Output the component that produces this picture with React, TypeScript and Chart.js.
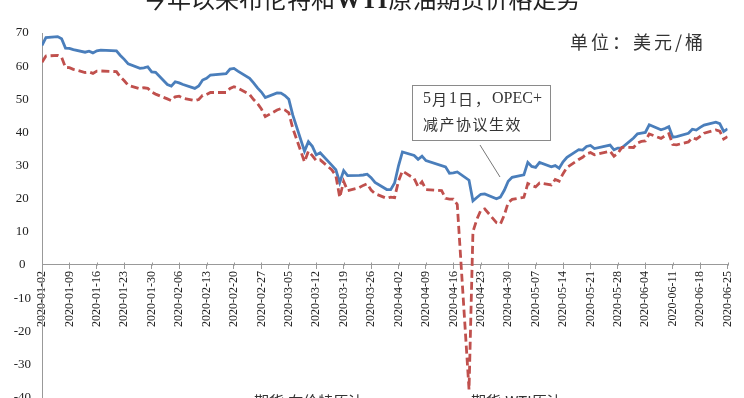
import React, { useEffect, useRef } from "react";
import { Chart, registerables } from "chart.js";

Chart.register(...registerables);

// ---------- data ----------
const TRADE_DATES = [
  "2020-01-02","2020-01-03","2020-01-06","2020-01-07","2020-01-08","2020-01-09","2020-01-10","2020-01-13","2020-01-14","2020-01-15","2020-01-16","2020-01-17","2020-01-21","2020-01-22","2020-01-23","2020-01-24","2020-01-27","2020-01-28","2020-01-29","2020-01-30","2020-01-31",
  "2020-02-03","2020-02-04","2020-02-05","2020-02-06","2020-02-07","2020-02-10","2020-02-11","2020-02-12","2020-02-13","2020-02-14","2020-02-18","2020-02-19","2020-02-20","2020-02-21","2020-02-24","2020-02-25","2020-02-26","2020-02-27","2020-02-28",
  "2020-03-02","2020-03-03","2020-03-04","2020-03-05","2020-03-06","2020-03-09","2020-03-10","2020-03-11","2020-03-12","2020-03-13","2020-03-16","2020-03-17","2020-03-18","2020-03-19","2020-03-20","2020-03-23","2020-03-24","2020-03-25","2020-03-26","2020-03-27","2020-03-30","2020-03-31",
  "2020-04-01","2020-04-02","2020-04-03","2020-04-06","2020-04-07","2020-04-08","2020-04-09","2020-04-13","2020-04-14","2020-04-15","2020-04-16","2020-04-17","2020-04-20","2020-04-21","2020-04-22","2020-04-23","2020-04-24","2020-04-27","2020-04-28","2020-04-29","2020-04-30",
  "2020-05-01","2020-05-04","2020-05-05","2020-05-06","2020-05-07","2020-05-08","2020-05-11","2020-05-12","2020-05-13","2020-05-14","2020-05-15","2020-05-18","2020-05-19","2020-05-20","2020-05-21","2020-05-22","2020-05-26","2020-05-27","2020-05-28","2020-05-29",
  "2020-06-01","2020-06-02","2020-06-03","2020-06-04","2020-06-05","2020-06-08","2020-06-09","2020-06-10","2020-06-11","2020-06-12","2020-06-15","2020-06-16","2020-06-17","2020-06-18","2020-06-19","2020-06-22","2020-06-23","2020-06-24","2020-06-25",
];

const BRENT = [
  66.25,68.6,68.91,68.27,65.44,65.37,64.98,64.2,64.49,64.0,64.62,64.85,64.59,63.21,62.04,60.69,59.32,59.51,59.81,58.29,58.16,
  54.45,53.96,55.28,54.93,54.47,53.27,54.01,55.79,56.34,57.32,57.75,59.12,59.31,58.5,56.3,54.95,53.43,52.18,50.52,
  51.9,51.86,51.13,49.99,45.27,34.36,37.22,35.79,33.22,33.85,30.05,28.73,24.88,28.47,26.98,27.03,27.15,27.39,26.34,24.93,22.76,22.74,
  24.74,29.94,34.11,33.05,31.87,32.84,31.48,null,29.6,27.69,27.82,28.08,25.57,19.33,20.37,21.33,21.44,19.99,20.46,22.54,25.27,
  26.44,27.2,30.97,29.72,29.46,30.97,29.63,29.98,29.19,31.13,32.5,34.81,34.65,35.75,36.06,35.13,36.17,34.74,35.29,35.33,
  38.32,39.57,39.79,39.99,42.3,40.8,41.18,41.73,38.55,38.73,39.72,40.96,40.71,41.51,42.19,43.08,42.63,40.31,41.05,
];

const WTI = [
  61.18,63.05,63.27,62.7,59.61,59.56,59.04,58.08,58.23,57.81,58.52,58.54,58.34,56.74,55.59,54.19,53.14,53.48,53.33,52.14,51.56,
  50.11,49.61,50.75,50.95,50.32,49.57,49.94,51.17,51.42,52.05,52.05,53.29,53.78,53.38,51.43,49.9,48.73,47.09,44.76,
  46.75,47.18,46.78,45.9,41.28,31.13,34.36,32.98,31.5,31.73,28.7,26.95,20.37,25.22,22.43,23.36,24.01,24.49,22.6,21.51,20.09,20.48,
  20.31,25.32,28.34,26.08,23.63,25.09,22.76,22.41,20.11,19.87,19.87,18.27,-37.63,10.01,13.78,16.5,16.94,12.78,12.34,15.06,18.84,
  19.78,20.39,24.56,23.99,23.55,24.74,24.14,25.78,25.29,27.56,29.43,31.82,32.5,33.49,33.92,33.25,34.35,32.81,33.71,35.49,
  35.44,36.81,37.29,37.41,39.55,38.19,38.94,39.6,36.34,36.26,37.12,38.38,37.96,38.84,39.75,40.73,40.37,38.01,38.72,
];

const SERIES_NAMES = ["期货:布伦特原油", "期货:WTI原油"];
const AXIS_START = "2020-01-02";
const AXIS_END = "2020-06-25";
const TICK_STEP_DAYS = 7;
const Y_MIN = -40;
const Y_MAX = 70;
const Y_STEP = 10;

const TITLE_A = "今年以来布伦特和";
const TITLE_B = "WTI";
const TITLE_C = "原油期货价格走势";
const UNIT_TEXT = "单位：美元/桶";
const NOTE_LINE1 = ["5", "月", "1", "日", "，", "OPEC+"];
const NOTE_LINE2 = "减产协议生效";

// ---------- helpers ----------
const DAY = 86400000;
const toUTC = (s: string) => {
  const [y, m, d] = s.split("-").map(Number);
  return Date.UTC(y, m - 1, d);
};
const START = toUTC(AXIS_START);
const dayIndex = (s: string) => Math.round((toUTC(s) - START) / DAY);
const fmt = (v: number) => {
  const dt = new Date(START + v * DAY);
  const mm = String(dt.getUTCMonth() + 1).padStart(2, "0");
  const dd = String(dt.getUTCDate()).padStart(2, "0");
  return `${dt.getUTCFullYear()}-${mm}-${dd}`;
};

const OFF = 20; // canvas is shifted up by this many px
const W = 744;
const H = 440;
const SERIF = "'Liberation Serif', 'Times New Roman', serif";
const CJK = "'Noto Sans CJK SC', sans-serif";
const BLUE = "#4A7EBB";
const RED = "#C0504D";

const overlay = {
  id: "overlay",
  afterDraw(chart: any) {
    const ctx = chart.ctx as CanvasRenderingContext2D;
    ctx.save();
    // upward halves of x-axis tick marks (crossing ticks)
    const xs = chart.scales.x;
    const y0 = Math.round(chart.scales.y.getPixelForValue(0)) + 0.5;
    ctx.strokeStyle = "#999";
    ctx.lineWidth = 1;
    xs.ticks.forEach((t: any) => {
      const px = Math.round(xs.getPixelForValue(t.value)) + 0.5;
      ctx.beginPath();
      ctx.moveTo(px, y0 - 3);
      ctx.lineTo(px, y0);
      ctx.stroke();
    });

    // title (cut off at top)
    ctx.fillStyle = "#222";
    ctx.textBaseline = "alphabetic";
    let x = 143;
    const ty = 8 + OFF;
    ctx.font = `24px ${CJK}`;
    ctx.fillText(TITLE_A, x, ty);
    x += ctx.measureText(TITLE_A).width + 1;
    ctx.font = `bold 25px ${SERIF}`;
    ctx.fillText(TITLE_B, x, ty);
    x += ctx.measureText(TITLE_B).width + 1;
    ctx.font = `24px ${CJK}`;
    ctx.fillText(TITLE_C, x, ty);

    // unit
    ctx.fillStyle = "#333";
    ctx.textBaseline = "middle";
    ctx.font = `18px ${CJK}`;
    try { (ctx as any).letterSpacing = "3px"; } catch (e) {}
    ctx.fillText(UNIT_TEXT, 570, 42 + OFF);
    try { (ctx as any).letterSpacing = "0px"; } catch (e) {}

    // annotation box
    const bx = 412, by = 85 + OFF, bw = 138, bh = 55;
    ctx.fillStyle = "#fff";
    ctx.fillRect(bx, by, bw, bh);
    ctx.strokeStyle = "#8a8a8a";
    ctx.lineWidth = 1;
    ctx.strokeRect(bx + 0.5, by + 0.5, bw, bh);
    ctx.fillStyle = "#333";
    let lx = 423;
    for (const part of NOTE_LINE1) {
      const latin = /[0-9A-Z+]/.test(part);
      ctx.font = latin ? `16px ${SERIF}` : `15px ${CJK}`;
      ctx.fillText(part, lx, 99 + OFF);
      lx += ctx.measureText(part).width + (latin ? 1 : 2);
    }
    ctx.font = `15px ${CJK}`;
    try { (ctx as any).letterSpacing = "1.5px"; } catch (e) {}
    ctx.fillText(NOTE_LINE2, 423, 124 + OFF);
    try { (ctx as any).letterSpacing = "0px"; } catch (e) {}
    // leader line
    ctx.beginPath();
    ctx.strokeStyle = "#777";
    ctx.moveTo(480, 145 + OFF);
    ctx.lineTo(500, 177 + OFF);
    ctx.stroke();

    // legend (mostly cut off at bottom)
    const ly = 401 + OFF;
    const starts = [208, 425];
    chart.data.datasets.forEach((ds: any, i: number) => {
      const sx = starts[i];
      ctx.beginPath();
      ctx.setLineDash(ds.borderDash || []);
      ctx.strokeStyle = ds.borderColor;
      ctx.lineWidth = 3;
      ctx.moveTo(sx, ly);
      ctx.lineTo(sx + 40, ly);
      ctx.stroke();
      ctx.setLineDash([]);
      ctx.fillStyle = "#333";
      ctx.font = `15px ${CJK}`;
      ctx.textBaseline = "middle";
      ctx.fillText(ds.label, sx + 46, ly);
    });
    ctx.restore();
  },
};

export default function App() {
  const ref = useRef<HTMLCanvasElement | null>(null);
  useEffect(() => {
    if (!ref.current) return;
    const brentPts = TRADE_DATES.map((d, i) => ({ x: dayIndex(d), y: BRENT[i] }));
    const wtiPts = TRADE_DATES.map((d, i) => ({ x: dayIndex(d), y: WTI[i] }));
    const chart = new Chart(ref.current, {
      type: "line",
      data: {
        datasets: [
          {
            label: SERIES_NAMES[0],
            data: brentPts,
            borderColor: BLUE,
            borderWidth: 2.8,
            pointRadius: 0,
            tension: 0,
            spanGaps: true,
            fill: false,
            order: 1,
          },
          {
            label: SERIES_NAMES[1],
            data: wtiPts,
            borderColor: RED,
            borderWidth: 2.8,
            borderDash: [8, 4],
            pointRadius: 0,
            tension: 0,
            spanGaps: true,
            fill: false,
            order: 0,
          },
        ],
      } as any,
      options: {
        responsive: false,
        animation: false,
        devicePixelRatio: 1,
        layout: { padding: { top: 53, bottom: 22.5, left: 0, right: 16 } },
        plugins: { legend: { display: false }, title: { display: false }, tooltip: { enabled: false } },
        scales: {
          x: {
            type: "linear",
            position: { y: 0 } as any,
            min: 0,
            max: dayIndex(AXIS_END),
            ticks: {
              stepSize: TICK_STEP_DAYS,
              autoSkip: false,
              maxRotation: 90,
              minRotation: 90,
              padding: 2,
              color: "#222",
              font: { family: SERIF, size: 12 },
              callback: (v: any) => fmt(Number(v)),
            },
            grid: { display: true, drawOnChartArea: false, drawTicks: true, tickLength: 4, color: "#999" },
            border: { display: true, color: "#999", width: 1 },
          },
          y: {
            type: "linear",
            min: Y_MIN,
            max: Y_MAX,
            ticks: {
              stepSize: Y_STEP,
              crossAlign: "center",
              padding: 11,
              color: "#222",
              font: { family: SERIF, size: 13 },
            },
            grid: { display: false, drawTicks: false },
            border: { display: true, color: "#999", width: 1 },
            afterFit: (s: any) => { s.width = 42; },
          },
        },
      } as any,
      plugins: [overlay],
    });
    return () => chart.destroy();
  }, []);
  return (
    <div style={{ position: "absolute", left: 0, top: -OFF, width: W, height: H, background: "#fff" }}>
      <canvas ref={ref} width={W} height={H} style={{ display: "block", width: W, height: H }} />
    </div>
  );
}
